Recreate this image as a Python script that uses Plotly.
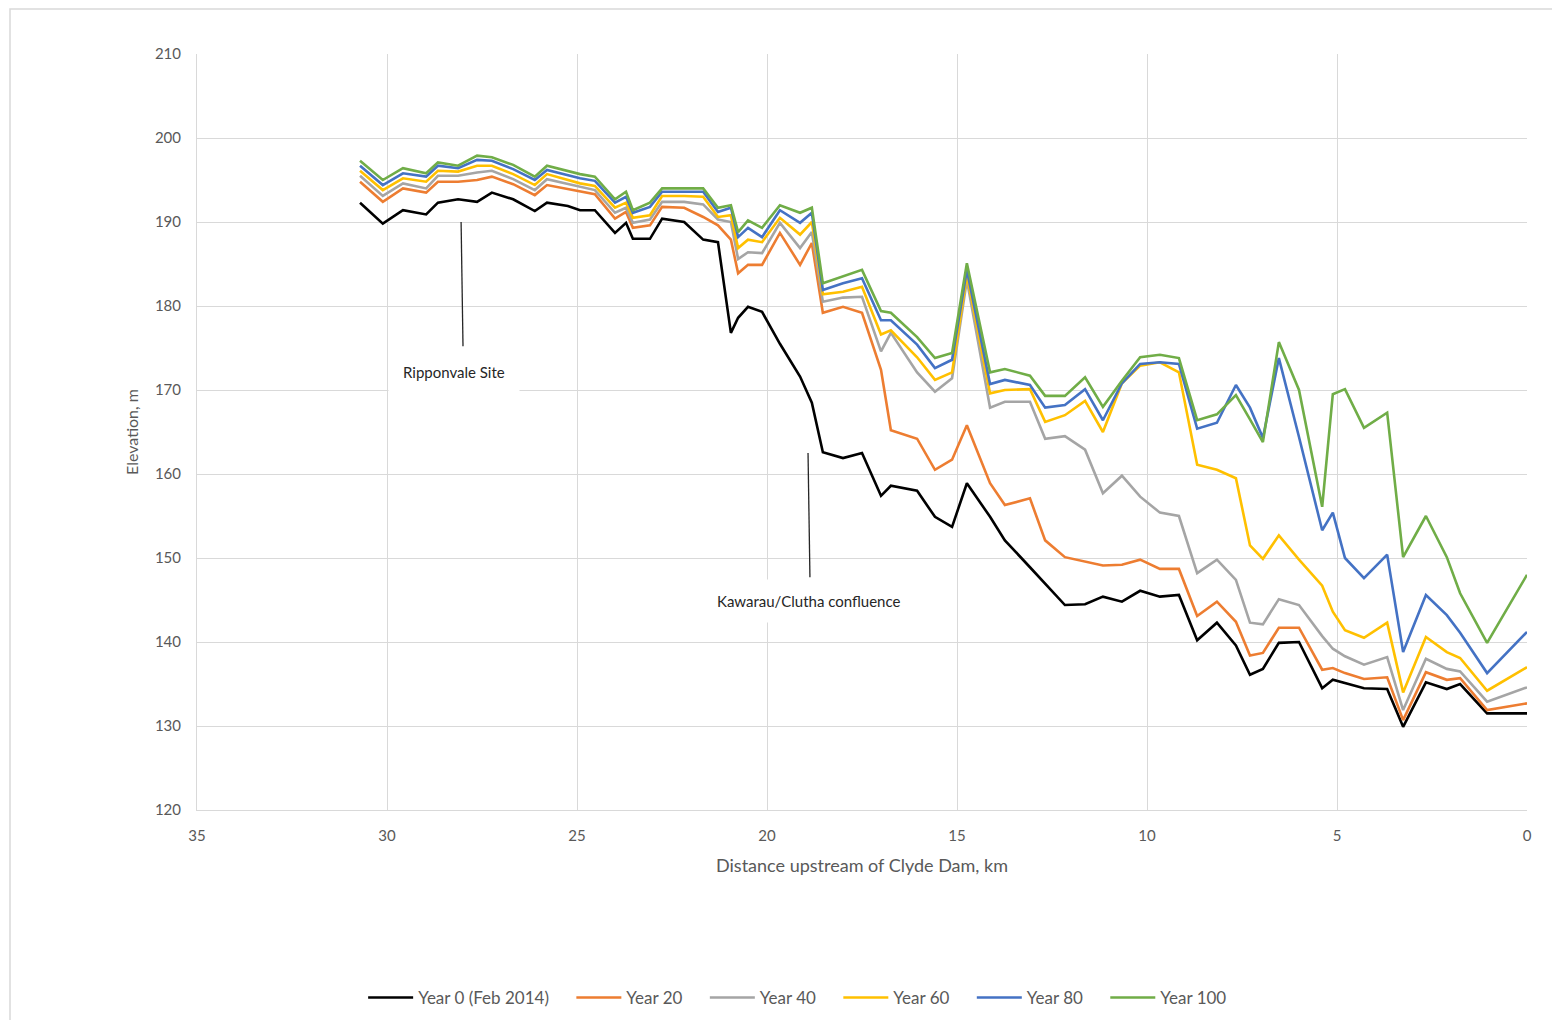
import plotly.graph_objects as go

km = [30.71, 30.11, 29.58, 28.97, 28.66, 28.13, 27.63, 27.24, 26.68, 26.11,
      25.79, 25.24, 24.92, 24.53, 24.00, 23.71, 23.53, 23.08, 22.76, 22.18,
      21.68, 21.29, 20.95, 20.76, 20.50, 20.13, 19.66, 19.13, 18.82, 18.53,
      18.00, 17.50, 17.00, 16.74, 16.05, 15.58, 15.13, 14.74, 14.13, 13.74,
      13.08, 12.68, 12.16, 11.63, 11.16, 10.66, 10.18, 9.66, 9.16, 8.68,
      8.16, 7.66, 7.29, 6.95, 6.53, 6.00, 5.39, 5.11, 4.79, 4.29,
      3.68, 3.26, 2.66, 2.11, 1.76, 1.05, 0.00]

year0 = [192.3, 189.8, 191.4, 190.9, 192.3, 192.7, 192.4, 193.5, 192.7, 191.3,
         192.3, 191.9, 191.4, 191.4, 188.7, 189.9, 188.0, 188.0, 190.4, 190.0,
         187.9, 187.6, 176.8, 178.6, 179.9, 179.3, 175.5, 171.6, 168.5, 162.6,
         161.9, 162.5, 157.4, 158.6, 158.0, 154.9, 153.7, 158.9, 154.9, 152.1,
         148.9, 146.9, 144.4, 144.5, 145.4, 144.8, 146.1, 145.4, 145.6, 140.2,
         142.3, 139.6, 136.1, 136.8, 139.9, 140.0, 134.5, 135.5, 135.1, 134.5,
         134.4, 129.9, 135.2, 134.4, 135.0, 131.5, 131.5]

year20 = [194.8, 192.4, 194.0, 193.5, 194.8, 194.8, 195.0, 195.4, 194.5, 193.2,
          194.4, 193.9, 193.6, 193.3, 190.4, 191.2, 189.3, 189.6, 191.8, 191.7,
          190.6, 189.6, 187.9, 183.9, 184.9, 184.9, 188.7, 184.9, 187.5, 179.2,
          179.9, 179.2, 172.4, 165.2, 164.2, 160.5, 161.7, 165.8, 158.9, 156.3,
          157.1, 152.1, 150.1, 149.6, 149.1, 149.2, 149.8, 148.7, 148.7, 143.1,
          144.8, 142.4, 138.4, 138.7, 141.7, 141.7, 136.7, 136.9, 136.3, 135.6,
          135.8, 130.7, 136.4, 135.5, 135.7, 131.9, 132.7]

year40 = [195.5, 193.1, 194.6, 194.0, 195.5, 195.5, 195.9, 196.1, 195.1, 193.8,
          195.1, 194.5, 194.2, 193.8, 191.1, 191.7, 189.9, 190.3, 192.4, 192.4,
          192.1, 190.3, 190.0, 185.6, 186.4, 186.3, 189.9, 186.9, 188.8, 180.5,
          181.0, 181.1, 174.6, 176.8, 172.1, 169.8, 171.4, 183.1, 167.9, 168.6,
          168.6, 164.2, 164.5, 162.9, 157.7, 159.8, 157.3, 155.4, 155.0, 148.2,
          149.8, 147.4, 142.3, 142.1, 145.1, 144.4, 140.7, 139.2, 138.3, 137.3,
          138.2, 131.9, 138.0, 136.8, 136.5, 132.9, 134.6]

year60 = [196.1, 193.8, 195.2, 194.8, 196.1, 196.0, 196.7, 196.7, 195.7, 194.4,
          195.7, 195.0, 194.6, 194.3, 191.7, 192.3, 190.5, 190.8, 193.1, 193.1,
          193.0, 190.6, 190.8, 186.9, 187.9, 187.6, 190.5, 188.5, 190.0, 181.4,
          181.7, 182.3, 176.6, 177.1, 173.9, 171.2, 172.1, 183.7, 169.6, 170.0,
          170.1, 166.2, 167.0, 168.7, 165.0, 170.8, 172.9, 173.3, 172.1, 161.1,
          160.5, 159.5, 151.5, 149.9, 152.7, 149.8, 146.7, 143.6, 141.4, 140.5,
          142.3, 134.0, 140.6, 138.8, 138.1, 134.2, 137.0]

year80 = [196.7, 194.4, 195.8, 195.4, 196.7, 196.4, 197.4, 197.3, 196.3, 195.0,
          196.2, 195.6, 195.2, 194.9, 192.3, 193.0, 191.1, 191.8, 193.6, 193.6,
          193.6, 191.2, 191.7, 188.2, 189.3, 188.2, 191.4, 189.9, 191.1, 181.9,
          182.7, 183.3, 178.3, 178.3, 175.4, 172.6, 173.6, 184.3, 170.7, 171.2,
          170.6, 167.9, 168.2, 170.1, 166.4, 170.8, 173.1, 173.3, 173.1, 165.4,
          166.1, 170.6, 167.9, 164.3, 173.8, 164.4, 153.3, 155.4, 150.0, 147.6,
          150.4, 138.8, 145.6, 143.2, 141.1, 136.3, 141.2]

year100 = [197.3, 195.0, 196.4, 195.8, 197.1, 196.7, 197.9, 197.7, 196.8, 195.4,
           196.7, 196.1, 195.7, 195.4, 192.7, 193.6, 191.4, 192.3, 194.0, 194.0,
           194.0, 191.7, 192.0, 188.8, 190.2, 189.3, 192.0, 191.1, 191.7, 182.7,
           183.5, 184.3, 179.4, 179.2, 176.3, 173.8, 174.4, 185.1, 172.1, 172.5,
           171.7, 169.3, 169.3, 171.5, 168.0, 171.1, 173.9, 174.2, 173.8, 166.4,
           167.1, 169.4, 166.5, 163.8, 175.7, 170.0, 156.1, 169.5, 170.1, 165.5,
           167.3, 150.1, 155.0, 150.1, 145.8, 139.9, 148.0]

series_names = ["Year 0 (Feb 2014)", "Year 20", "Year 40", "Year 60", "Year 80", "Year 100"]
series_vals = [year0, year20, year40, year60, year80, year100]
colors = ["#000000", "#ED7D31", "#A5A5A5", "#FFC000", "#4472C4", "#70AD47"]

x_ticks = [35, 30, 25, 20, 15, 10, 5, 0]
y_ticks = [120, 130, 140, 150, 160, 170, 180, 190, 200, 210]

FONT = "Lato, Open Sans, sans-serif"
PAD = "\u00a0" * 4  # extra spacing between legend entries

fig = go.Figure()
for name, vals, col in zip(series_names, series_vals, colors):
    fig.add_trace(go.Scatter(x=km, y=vals, mode="lines", name=name + PAD,
                             line=dict(color=col, width=2.6)))

grid = "#D9D9D9"
# page body has an 8px margin, so the figure is offset by (8, 8)
fig.update_layout(
    width=1544, height=1012,
    margin=dict(l=189, r=25, t=46, b=210, autoexpand=False),
    paper_bgcolor="white", plot_bgcolor="white",
    font=dict(family=FONT, color="#595959", size=15),
    xaxis=dict(range=[35, 0], tickvals=x_ticks, showgrid=True, gridcolor=grid,
               gridwidth=1, zeroline=False, showline=True, linecolor=grid,
               ticks="", ticklabelstandoff=12, tickfont=dict(size=15, color="#595959"),
               title=dict(text="Distance upstream of Clyde Dam, km",
                          font=dict(size=18, color="#595959"), standoff=16)),
    yaxis=dict(range=[120, 210], tickvals=y_ticks, showgrid=True, gridcolor=grid,
               gridwidth=1, zeroline=False, showline=True, linecolor=grid,
               ticks="", ticklabelstandoff=12, tickfont=dict(size=15, color="#595959"),
               title=dict(text="Elevation, m", font=dict(size=16, color="#595959"),
                          standoff=12)),
    legend=dict(orientation="h", x=0.458, xanchor="center", y=-0.2487, yanchor="middle",
                font=dict(size=17, color="#595959"), itemwidth=45,
                tracegroupgap=0, traceorder="normal"),
    showlegend=True,
)

# Annotation pointer lines
fig.add_shape(type="line", x0=28.05, x1=28.0, y0=190.0, y1=175.2,
              line=dict(color="#262626", width=1.3), layer="above")
fig.add_shape(type="line", x0=18.92, x1=18.87, y0=162.5, y1=147.7,
              line=dict(color="#262626", width=1.3), layer="above")

fig.add_annotation(x=28.24, y=172.1, text="Ripponvale Site", showarrow=False,
                   font=dict(size=15, color="#262626", family=FONT),
                   bgcolor="white", borderpad=14)
fig.add_annotation(x=18.89, y=144.9, text="Kawarau/Clutha confluence", showarrow=False,
                   font=dict(size=15, color="#262626", family=FONT),
                   bgcolor="white", borderpad=12)

# outer chart frame (only top and left edges fall inside the page)
fig.add_shape(type="rect", xref="paper", yref="paper",
              x0=-0.1406, x1=1.05, y0=-0.35, y1=1.0595,
              line=dict(color="#D9D9D9", width=1.5), fillcolor="rgba(0,0,0,0)")

fig.write_html("out.html")
